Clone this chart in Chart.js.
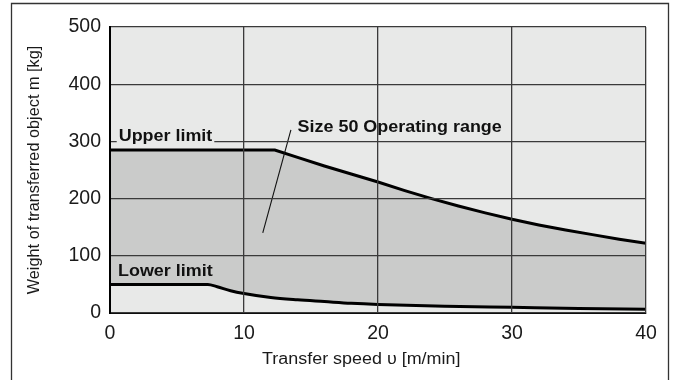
<!DOCTYPE html>
<html lang="en">
<head>
  <meta charset="UTF-8" />
  <title>Size 50 Operating range</title>
  <script src="https://cdn.jsdelivr.net/npm/chart.js"></script>
  <style>
    body { margin: 0; background: #fff; }
    canvas { display: block; }
  </style>
</head>
<body>
  <canvas id="rangeChart" width="676" height="380"></canvas>

  <script>
    // transfer speed [m/min] -> weight [kg]
    const upperSpeed  = [0, 12.3, 14, 16, 18, 20, 22, 24, 26, 28, 30, 32, 34, 36, 38, 40];
    const upperWeight = [285, 285, 272, 257, 243, 229, 214, 200, 187, 175, 164, 154, 145, 137, 129, 122];
    const lowerSpeed  = [0, 7.3, 8, 9, 10, 12, 14, 16, 18, 20, 25, 30, 35, 40];
    const lowerWeight = [50, 50, 46, 39, 34, 27, 23, 20, 17, 15, 12, 10, 8, 6.5];
    const leaderSpeed  = [13.5, 11.4];
    const leaderWeight = [320, 140];
    const xTicks = [0, 10, 20, 30, 40];
    const yTicks = [0, 100, 200, 300, 400, 500];

    const FONT = "'Liberation Sans', Arial, Helvetica, sans-serif";
    const PLOT_BG = '#e8e9e8';
    const RANGE_BG = '#cacbca';
    const STRETCH = 1.12; // the original lettering is a little wide

    const toPoints = (xs, ys) => xs.map((x, i) => ({ x: x, y: ys[i] }));

    // labels placed in data coordinates
    const notes = [
      { text: 'Upper limit', x: 0.65, y: 300, bg: true },
      { text: 'Lower limit', x: 0.6, y: 64.5 },
      { text: 'Size 50 Operating range', x: 14.0, y: 316.5 }
    ];

    function wideText(ctx, text, x, y) {
      ctx.save();
      ctx.translate(x, y);
      ctx.scale(STRETCH, 1);
      ctx.fillText(text, 0, 0);
      ctx.restore();
    }

    const plotBackground = {
      id: 'plotBackground',
      beforeDraw(chart) {
        const { ctx, chartArea: a } = chart;
        ctx.save();
        ctx.fillStyle = PLOT_BG;
        ctx.fillRect(a.left, a.top, a.right - a.left, a.bottom - a.top);
        ctx.restore();
      }
    };

    const decorations = {
      id: 'decorations',
      afterDraw(chart) {
        const { ctx, scales: { x, y } } = chart;
        ctx.save();
        ctx.font = `bold 16px ${FONT}`;
        ctx.textBaseline = 'alphabetic';
        ctx.textAlign = 'left';
        notes.forEach(n => {
          const px = x.getPixelForValue(n.x);
          const py = y.getPixelForValue(n.y);
          if (n.bg) {
            const w = ctx.measureText(n.text).width * STRETCH;
            ctx.fillStyle = PLOT_BG;
            ctx.fillRect(px - 2, py - 13, w + 4, 17);
          }
          ctx.fillStyle = '#111';
          wideText(ctx, n.text, px, py);
        });

        // x axis title
        ctx.font = `16px ${FONT}`;
        ctx.fillStyle = '#1a1a1a';
        ctx.textAlign = 'center';
        ctx.textBaseline = 'middle';
        wideText(ctx, 'Transfer speed \u03C5 [m/min]', x.getPixelForValue(18.75), 360);

        // outer frame
        ctx.strokeStyle = '#333';
        ctx.lineWidth = 1.3;
        ctx.beginPath();
        ctx.moveTo(11.5, 380);
        ctx.lineTo(11.5, 3.5);
        ctx.lineTo(668.5, 3.5);
        ctx.lineTo(668.5, 380);
        ctx.stroke();
        ctx.restore();
      }
    };

    const ctx = document.getElementById('rangeChart').getContext('2d');
    const rangeChart = new Chart(ctx, {
      type: 'line',
      data: {
        datasets: [
          {
            label: 'Upper limit',
            data: toPoints(upperSpeed, upperWeight),
            order: 3,
            borderColor: '#000',
            borderWidth: 3,
            backgroundColor: RANGE_BG,
            fill: 'origin',
            tension: 0,
            pointRadius: 0
          },
          {
            // filled with the plot colour so only the band between the limits stays dark
            label: 'Lower limit',
            data: toPoints(lowerSpeed, lowerWeight),
            order: 2,
            borderColor: '#000',
            borderWidth: 3,
            backgroundColor: PLOT_BG,
            fill: 'origin',
            cubicInterpolationMode: 'monotone',
            pointRadius: 0
          },
          {
            label: 'Leader',
            data: toPoints(leaderSpeed, leaderWeight),
            order: 1,
            borderColor: '#111',
            borderWidth: 1.1,
            fill: false,
            pointRadius: 0
          }
        ]
      },
      options: {
        responsive: false,
        devicePixelRatio: 1,
        animation: false,
        layout: { padding: { left: 0, top: 27, right: 30, bottom: 0 } },
        plugins: {
          legend: { display: false },
          tooltip: { enabled: false }
        },
        scales: {
          x: {
            type: 'linear',
            min: 0,
            max: 40,
            afterBuildTicks: s => { s.ticks = xTicks.map(v => ({ value: v })); },
            afterFit: s => { s.height = 67; },
            grid: { color: '#3a3a3a', lineWidth: 1.3, drawTicks: false, z: 1 },
            border: { color: '#000', width: 2, z: 1 },
            ticks: { padding: 9, color: '#1a1a1a', font: { family: FONT, size: 19.5 } }
          },
          y: {
            min: 0,
            max: 500,
            afterBuildTicks: s => { s.ticks = yTicks.map(v => ({ value: v })); },
            afterFit: s => { s.width = 110; },
            grid: { color: '#3a3a3a', lineWidth: 1.3, drawTicks: false, z: 1 },
            border: { color: '#000', width: 2, z: 1 },
            ticks: { padding: 9, color: '#1a1a1a', font: { family: FONT, size: 19.5 } },
            title: {
              display: true,
              text: 'Weight of transferred object m [kg]',
              color: '#1a1a1a',
              font: { family: FONT, size: 16.3 },
              padding: { top: 25 }
            }
          }
        }
      },
      plugins: [plotBackground, decorations]
    });
  </script>
</body>
</html>
